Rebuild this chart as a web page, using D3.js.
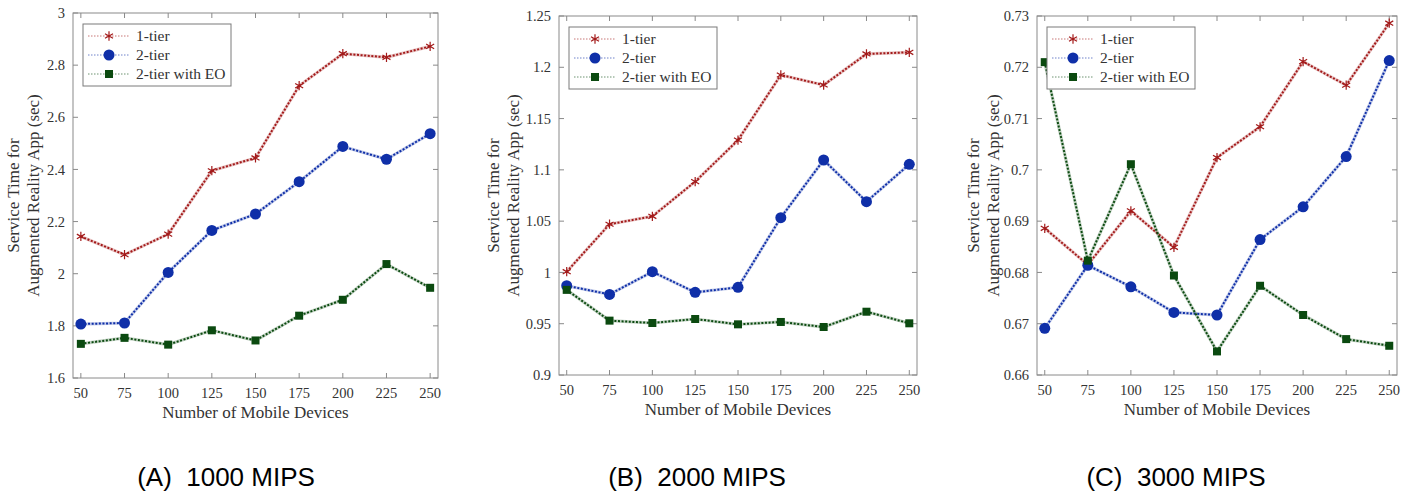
<!DOCTYPE html>
<html>
<head>
<meta charset="utf-8">
<script src="https://cdn.jsdelivr.net/npm/d3@7"></script>
<style>
  body { margin: 0; background: #fff; }
  svg { display: block; }
  text { font-family: "Liberation Serif", "Times New Roman", serif; fill: #333; }
  .caption { font-family: "Liberation Sans", Arial, sans-serif; fill: #000; }
</style>
</head>
<body>
<svg id="chart" width="1411" height="493"></svg>
<script>
const devices = [50, 75, 100, 125, 150, 175, 200, 225, 250];
const seriesNames = ["1-tier", "2-tier", "2-tier with EO"];

// (A) 1000 MIPS
const tier1A = [2.143, 2.073, 2.152, 2.395, 2.444, 2.721, 2.844, 2.830, 2.872];
const tier2A = [1.807, 1.811, 2.005, 2.166, 2.229, 2.353, 2.488, 2.439, 2.537];
const eoA = [1.731, 1.754, 1.728, 1.783, 1.744, 1.839, 1.900, 2.037, 1.946];
const ticksA = [1.6, 1.8, 2, 2.2, 2.4, 2.6, 2.8, 3];

// (B) 2000 MIPS
const tier1B = [1.0007, 1.047, 1.0547, 1.0885, 1.129, 1.1925, 1.1827, 1.213, 1.2146];
const tier2B = [0.987, 0.9786, 1.0007, 0.9806, 0.9855, 1.0534, 1.1096, 1.069, 1.1054];
const eoB = [0.983, 0.953, 0.9507, 0.9546, 0.9494, 0.9517, 0.9468, 0.9617, 0.9504];
const ticksB = [0.9, 0.95, 1, 1.05, 1.1, 1.15, 1.2, 1.25];

// (C) 3000 MIPS
const tier1C = [0.6886, 0.6815, 0.692, 0.6849, 0.7024, 0.7084, 0.7211, 0.7165, 0.7286];
const tier2C = [0.6691, 0.6814, 0.6772, 0.6722, 0.6717, 0.6864, 0.6928, 0.7026, 0.7213];
const eoC = [0.721, 0.6823, 0.7011, 0.6794, 0.6646, 0.6774, 0.6717, 0.667, 0.6657];
const ticksC = [0.66, 0.67, 0.68, 0.69, 0.7, 0.71, 0.72, 0.73];

const captions = ["(A)  1000 MIPS", "(B)  2000 MIPS", "(C)  3000 MIPS"];

const colors = ["#a31a1a", "#0f2fa8", "#0b4a10"];
const markers = ["star", "circle", "square"];

const svg = d3.select("#chart");

/** one MATLAB-like panel */
const panel = ({ left, right, top, bottom, series, ticks, labelOffset, caption, captionX }) => {
  const g = svg.append("g");

  const x = d3.scaleLinear().domain([45.5, 254.5]).range([left, right]);
  const y = d3.scaleLinear().domain(d3.extent(ticks)).range([bottom, top]);

  /** box */
  g.append("rect")
    .attr("x", left).attr("y", top)
    .attr("width", right - left).attr("height", bottom - top)
    .attr("fill", "none").attr("stroke", "#8a8a8a").attr("stroke-width", 1);

  /** inward ticks on all sides */
  const tl = 5;
  for (const d of devices) {
    g.append("line").attr("x1", x(d)).attr("x2", x(d)).attr("y1", bottom).attr("y2", bottom - tl)
      .attr("stroke", "#8a8a8a");
    g.append("line").attr("x1", x(d)).attr("x2", x(d)).attr("y1", top).attr("y2", top + tl)
      .attr("stroke", "#8a8a8a");
    g.append("text").text(d).attr("x", x(d)).attr("y", bottom + 20)
      .attr("text-anchor", "middle").attr("font-size", 14.5);
  }
  for (const t of ticks) {
    g.append("line").attr("x1", left).attr("x2", left + tl).attr("y1", y(t)).attr("y2", y(t))
      .attr("stroke", "#8a8a8a");
    g.append("line").attr("x1", right).attr("x2", right - tl).attr("y1", y(t)).attr("y2", y(t))
      .attr("stroke", "#8a8a8a");
    g.append("text").text(t).attr("x", left - 8).attr("y", y(t))
      .attr("dy", "0.35em").attr("text-anchor", "end").attr("font-size", 14.5);
  }

  /** axis labels */
  g.append("text").text("Number of Mobile Devices")
    .attr("x", (left + right) / 2).attr("y", bottom + 40)
    .attr("text-anchor", "middle").attr("font-size", 17);
  const cy = (top + bottom) / 2;
  g.append("text").text("Service Time for")
    .attr("transform", `translate(${left + labelOffset - 20},${cy}) rotate(-90)`)
    .attr("text-anchor", "middle").attr("font-size", 17);
  g.append("text").text("Augmented Reality App (sec)")
    .attr("transform", `translate(${left + labelOffset},${cy}) rotate(-90)`)
    .attr("text-anchor", "middle").attr("font-size", 17);

  /** lines */
  const line = d3.line().x((d, i) => x(devices[i])).y((d) => y(d));
  series.forEach((vals, si) => {
    g.append("path").attr("d", line(vals))
      .attr("fill", "none").attr("stroke", colors[si]).attr("stroke-opacity", 0.25)
      .attr("stroke-width", 3.2);
    g.append("path").attr("d", line(vals))
      .attr("fill", "none").attr("stroke", colors[si])
      .attr("stroke-width", 2).attr("stroke-dasharray", "2 1.6");
  });

  /** markers */
  const drawMarker = (sel, kind, cx, cy2, color) => {
    if (kind === "circle")
      sel.append("circle").attr("cx", cx).attr("cy", cy2).attr("r", 5.5).attr("fill", color);
    else if (kind === "square")
      sel.append("rect").attr("x", cx - 4).attr("y", cy2 - 4).attr("width", 8).attr("height", 8)
        .attr("fill", color);
    else
      sel.append("path")
        .attr("d", d3.symbol(d3.symbolAsterisk, 60)())
        .attr("transform", `translate(${cx},${cy2})`)
        .attr("stroke", color).attr("stroke-width", 1.2).attr("fill", "none");
  };
  series.forEach((vals, si) =>
    vals.forEach((v, i) => drawMarker(g, markers[si], x(devices[i]), y(v), colors[si]))
  );

  /** legend */
  const lx = left + 10, ly = top + 11;
  const lg = g.append("g");
  lg.append("rect").attr("x", lx).attr("y", ly).attr("width", 148).attr("height", 62)
    .attr("fill", "#fff").attr("stroke", "#7a7a7a");
  seriesNames.forEach((name, si) => {
    const ry = ly + 12 + si * 19;
    lg.append("line").attr("x1", lx + 5).attr("x2", lx + 47).attr("y1", ry).attr("y2", ry)
      .attr("stroke", colors[si]).attr("stroke-opacity", 0.6)
      .attr("stroke-width", 1).attr("stroke-dasharray", "1.5 1.5");
    drawMarker(lg, markers[si], lx + 26, ry, colors[si]);
    lg.append("text").text(name).attr("x", lx + 53).attr("y", ry).attr("dy", "0.35em")
      .attr("font-size", 15.5).attr("fill", "#222");
  });

  /** caption */
  svg.append("text").attr("class", "caption").text(caption)
    .attr("x", captionX).attr("y", 486).attr("text-anchor", "middle")
    .attr("font-size", 26).attr("xml:space", "preserve").style("white-space", "pre");
};

panel({ left: 73, right: 438, top: 13, bottom: 378, series: [tier1A, tier2A, eoA],
  ticks: ticksA, labelOffset: -34, caption: captions[0], captionX: 226 });
panel({ left: 559, right: 917, top: 16, bottom: 375, series: [tier1B, tier2B, eoB],
  ticks: ticksB, labelOffset: -40, caption: captions[1], captionX: 697 });
panel({ left: 1037, right: 1397, top: 16, bottom: 375, series: [tier1C, tier2C, eoC],
  ticks: ticksC, labelOffset: -38, caption: captions[2], captionX: 1176 });
</script>
</body>
</html>
